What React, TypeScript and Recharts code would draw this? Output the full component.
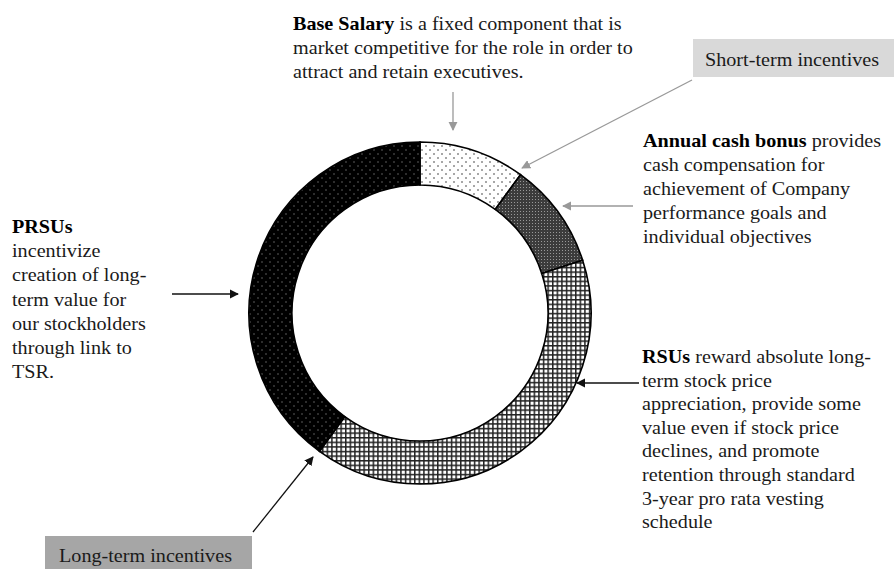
import { Cell, Pie, PieChart } from 'recharts'

const components = ['Base Salary', 'Annual cash bonus', 'RSUs', 'PRSUs']
const shares = [10, 10, 40, 40]

const pieData = components.map((name, i) => ({ name, value: shares[i] }))

const patternFill: Record<string, string> = {
  'Base Salary': 'url(#dotsLight)',
  'Annual cash bonus': 'url(#checkDark)',
  RSUs: 'url(#grid)',
  PRSUs: 'url(#dotsDark)',
}

const topNote = ['is a fixed component that is', 'market competitive for the role in order to', 'attract and retain executives.']
const bonusNote = ['provides', 'cash compensation  for', 'achievement of Company', 'performance goals and', 'individual objectives']
const prsuNote = ['', 'incentivize', 'creation of long-', 'term value for', 'our stockholders', 'through link to', 'TSR.']
const rsuNote = [
  'reward absolute long-',
  'term stock price',
  'appreciation, provide some',
  'value even if stock price',
  'declines, and promote',
  'retention through standard',
  '3-year pro rata vesting',
  'schedule',
]

const font = '"Liberation Serif", "Times New Roman", serif'
const stretch = 1.12

function Note({ x, y, bold, lines, lh = 24 }: { x: number; y: number; bold: string; lines: string[]; lh?: number }) {
  return (
    <g>
      {lines.map((line, i) => (
        <text
          key={i}
          transform={`translate(${x},${y + i * lh}) scale(${stretch},1)`}
          fontFamily={font}
          fontSize={18}
          fill="#1a1a1a"
        >
          {i === 0 && (
            <tspan fontWeight="bold" fill="#000">
              {bold}
              {line ? ' ' : ''}
            </tspan>
          )}
          {line}
        </text>
      ))}
    </g>
  )
}

export default function App() {
  return (
    <div style={{ position: 'absolute', left: 0, top: 0, width: 894, height: 569, background: '#fff' }}>
      <PieChart width={894} height={569}>
        <defs>
          <pattern id="dotsLight" width="8" height="8" patternUnits="userSpaceOnUse">
            <rect width="8" height="8" fill="#fff" />
            <circle cx="2" cy="2" r="1" fill="#8a8a8a" />
            <circle cx="6" cy="6" r="1" fill="#8a8a8a" />
          </pattern>
          <pattern id="dotsDark" width="8" height="8" patternUnits="userSpaceOnUse">
            <rect width="8" height="8" fill="#000" />
            <circle cx="2" cy="2" r="0.8" fill="#666" />
            <circle cx="6" cy="6" r="0.8" fill="#666" />
          </pattern>
          <pattern id="checkDark" width="3" height="3" patternUnits="userSpaceOnUse">
            <rect width="3" height="3" fill="#3c3c3c" />
            <rect x="1" y="1" width="1" height="1" fill="#999" />
          </pattern>
          <pattern id="grid" width="4.6" height="4.6" patternUnits="userSpaceOnUse">
            <rect width="4.6" height="4.6" fill="#fff" />
            <rect width="4.6" height="1.5" fill="#222" />
            <rect width="1.5" height="4.6" fill="#222" />
          </pattern>
          <marker id="headGray" viewBox="0 0 10 10" refX="9" refY="5" markerWidth="7" markerHeight="7" orient="auto">
            <path d="M0,0 L10,5 L0,10 z" fill="#999" />
          </marker>
          <marker id="headBlack" viewBox="0 0 10 10" refX="9" refY="5" markerWidth="7" markerHeight="7" orient="auto">
            <path d="M0,0 L10,5 L0,10 z" fill="#111" />
          </marker>
        </defs>

        <Pie
          data={pieData}
          dataKey="value"
          nameKey="name"
          cx={415}
          cy={308}
          innerRadius={128}
          outerRadius={171}
          startAngle={90}
          endAngle={-270}
          stroke="#000"
          strokeWidth={1.6}
          isAnimationActive={false}
        >
          {pieData.map((entry) => (
            <Cell key={entry.name} fill={patternFill[entry.name]} />
          ))}
        </Pie>

        <rect x={693} y={39} width={201} height={38} fill="#d9d9d9" />
        <text transform={`translate(705,66) scale(${stretch},1)`} fontFamily={font} fontSize={18} fill="#1a1a1a">
          Short-term incentives
        </text>
        <rect x={45} y={536} width={207} height={33} fill="#a6a6a6" />
        <text transform={`translate(59,562) scale(${stretch},1)`} fontFamily={font} fontSize={18} fill="#1a1a1a">
          Long-term incentives
        </text>

        <Note x={293} y={30} bold="Base Salary" lines={topNote} />
        <Note x={643} y={147} bold="Annual cash bonus" lines={bonusNote} />
        <Note x={12} y={233} bold="PRSUs" lines={prsuNote} lh={24.2} />
        <Note x={642} y={363} bold="RSUs" lines={rsuNote} lh={23.6} />

        <line x1={453} y1={92} x2={453} y2={130} stroke="#999" strokeWidth={1.3} markerEnd="url(#headGray)" />
        <line x1={692} y1={80} x2={522} y2={168} stroke="#999" strokeWidth={1.3} markerEnd="url(#headGray)" />
        <line x1={633} y1={206} x2={563} y2={206} stroke="#999" strokeWidth={1.3} markerEnd="url(#headGray)" />
        <line x1={172} y1={294} x2={238} y2={294} stroke="#111" strokeWidth={1.3} markerEnd="url(#headBlack)" />
        <line x1={639} y1={383} x2={577} y2={383} stroke="#111" strokeWidth={1.3} markerEnd="url(#headBlack)" />
        <line x1={253} y1={532} x2={313} y2={457} stroke="#111" strokeWidth={1.3} markerEnd="url(#headBlack)" />
      </PieChart>
    </div>
  )
}
